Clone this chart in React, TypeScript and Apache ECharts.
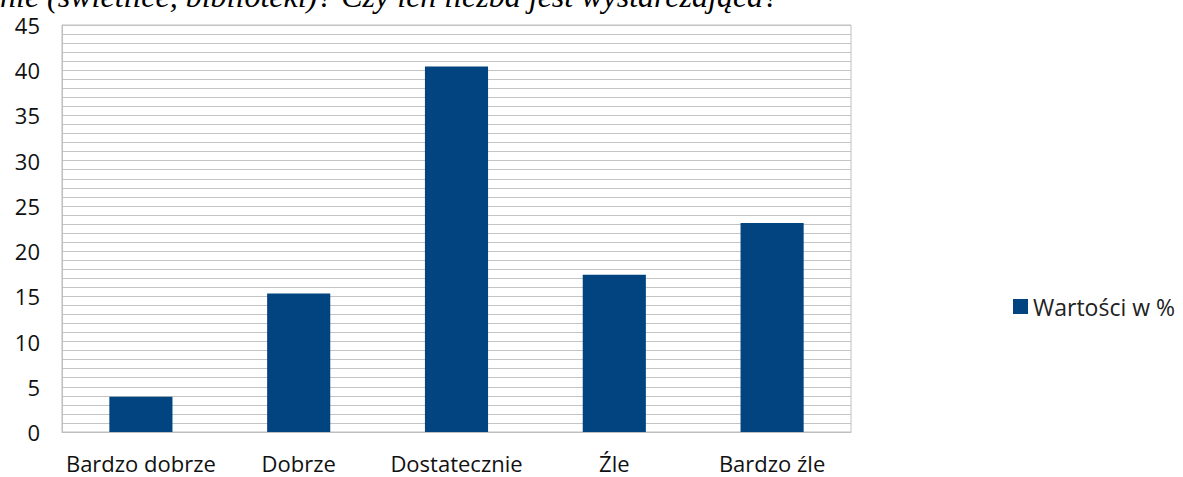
import React, { useEffect, useRef } from "react";
import * as echarts from "echarts";

const categories = ["Bardzo dobrze", "Dobrze", "Dostatecznie", "Źle", "Bardzo źle"];
const values = [3.9, 15.3, 40.4, 17.4, 23.1];
const seriesName = "Wartości w %";
const headerText = "nie (świetlice, biblioteki)? Czy ich liczba jest wystarczająca?";

export default function App() {
  const ref = useRef<HTMLDivElement>(null);
  useEffect(() => {
    const chart = echarts.init(ref.current!, null, { renderer: "svg" });
    chart.setOption({
      animation: false,
      backgroundColor: "#ffffff",
      textStyle: { fontFamily: "Open Sans" },
      graphic: [
        {
          type: "text",
          left: 0,
          top: -20,
          style: {
            text: headerText,
            font: "italic 32px 'Liberation Serif'",
            fill: "#000",
          },
        },
      ],
      legend: {
        show: true,
        right: 3,
        top: 290,
        orient: "vertical",
        itemWidth: 15,
        itemHeight: 15,
        icon: "rect",
        itemGap: 5,
        textStyle: { fontSize: 23, color: "#222", fontFamily: "Open Sans", padding: [0, 0, 0, 0] },
        data: [seriesName],
      },
      grid: {
        left: 62,
        right: 332,
        top: 25,
        bottom: 45,
        show: true,
        borderColor: "#bfbfbf",
        borderWidth: 1,
      },
      xAxis: {
        type: "category",
        data: categories,
        axisLine: { lineStyle: { color: "#bfbfbf" } },
        axisTick: { show: false },
        axisLabel: { interval: 0, fontSize: 22, lineHeight: 22, color: "#111", margin: 20, fontFamily: "Open Sans" },
      },
      yAxis: {
        type: "value",
        min: 0,
        max: 45,
        interval: 5,
        axisLine: { show: true, lineStyle: { color: "#bfbfbf" } },
        axisTick: { show: false },
        axisLabel: { fontSize: 22, lineHeight: 18, color: "#111", margin: 22, fontFamily: "Open Sans" },
        splitLine: { lineStyle: { color: "#c4c4c4", width: 1 } },
        minorTick: { show: false, splitNumber: 5 },
        minorSplitLine: { show: true, lineStyle: { color: "#c4c4c4", width: 1 } },
      },
      series: [
        {
          name: seriesName,
          type: "bar",
          data: values,
          barWidth: "40%",
          itemStyle: { color: "#01447F" },
        },
      ],
    });
    return () => chart.dispose();
  }, []);
  return (
    <div
      ref={ref}
      style={{ position: "absolute", left: 0, top: 0, width: 1183, height: 477 }}
    />
  );
}
